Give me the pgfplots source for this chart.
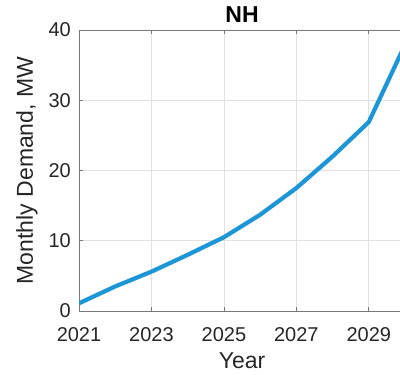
\documentclass[border=0pt]{standalone}
\usepackage{pgfplots}
\pgfplotsset{compat=1.18}
\usepackage{fontspec}
\setmainfont{Liberation Sans}

\definecolor{demandblue}{RGB}{28,150,214}
\definecolor{txt}{RGB}{38,38,38}
\definecolor{axgray}{RGB}{120,120,120}
\definecolor{gridgray}{RGB}{225,225,225}

\begin{document}
\begin{tikzpicture}
\begin{axis}[
  name=ax,
  scale only axis,
  width=326pt, height=281pt,
  xmin=2021, xmax=2030,
  ymin=0, ymax=40,
  xtick={2021,2023,2025,2027,2029},
  ytick={0,10,20,30,40},
  /pgf/number format/.cd, 1000 sep={}, assume math mode=true,
  /pgfplots/.cd,
  tick align=inside,
  major tick length=4pt,
  tick style={axgray, line width=0.7pt},
  axis line style={axgray, line width=0.8pt},
  grid=major,
  major grid style={gridgray, line width=0.7pt},
  ticklabel style={font=\fontsize{20}{24}\selectfont, text=txt},
  xticklabel style={anchor=north, inner sep=0pt, yshift=-16pt},
  yticklabel style={anchor=east, inner sep=0pt, xshift=-8pt},
  title={NH},
  every axis title/.style={font=\fontsize{23}{28}\selectfont\bfseries, text=black,
    at={([yshift=7pt]axis description cs:0.5,1)}, anchor=base, inner sep=0pt},
  xlabel={Year},
  every axis x label/.style={font=\fontsize{23}{28}\selectfont, text=txt,
    at={([yshift=-57pt]axis description cs:0.5,0)}, anchor=base, inner sep=0pt},
  ylabel={Monthly Demand, MW},
  every axis y label/.style={font=\fontsize{23}{28}\selectfont, text=txt, rotate=90,
    at={([xshift=-46pt]axis description cs:0,0.5)}, anchor=base, inner sep=0pt},
]
\addplot[demandblue, line width=4.2pt, line join=round] coordinates {
  (2021, 1.1) (2022, 3.5) (2023, 5.6) (2024, 8.0) (2025, 10.5)
  (2026, 13.7) (2027, 17.5) (2028, 22.0) (2029, 26.9) (2030, 37.9)
};
\end{axis}
% page frame: the right end of the axis box runs just past the edge
\pgfresetboundingbox
\path ([xshift=-79pt,yshift=-63pt]ax.south west) rectangle ([xshift=-5pt,yshift=30pt]ax.north east);
\end{tikzpicture}
\end{document}
